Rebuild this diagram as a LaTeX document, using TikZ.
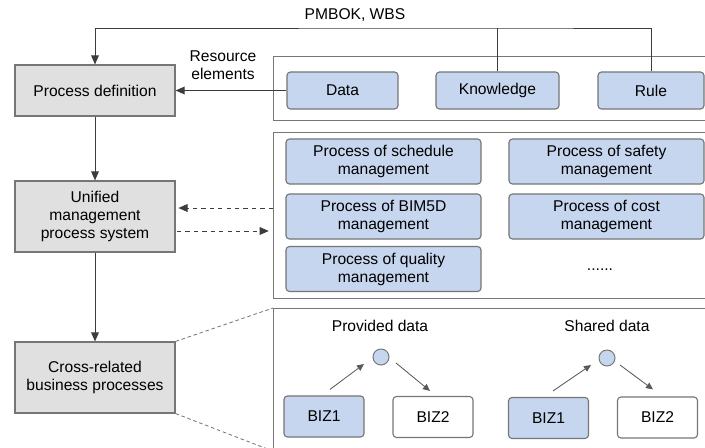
\documentclass[tikz,border=0pt]{standalone}
\usepackage{fontspec}
\setmainfont{Liberation Sans}
\usetikzlibrary{arrows.meta}

\definecolor{stagegray}{RGB}{224,224,224}
\definecolor{itemblue}{RGB}{198,214,238}
\definecolor{framegray}{RGB}{118,118,118}
\definecolor{wiregray}{RGB}{60,60,60}

\tikzset{
  every node/.style={font=\fontsize{11.1}{12.8}\selectfont},
  stage/.style={draw=framegray, fill=stagegray, line width=0.8pt, minimum width=4cm, align=center},
  item/.style={draw=framegray, fill=itemblue, line width=0.8pt, rounded corners=2.5pt, align=center},
  proc/.style={item, minimum width=4.875cm, minimum height=1.125cm},
  biz/.style={item, minimum width=2cm, minimum height=1.025cm},
  dot/.style={circle, draw=framegray, fill=itemblue, line width=0.7pt, minimum size=0.4cm, inner sep=0pt},
  panel/.style={draw=framegray, line width=0.8pt, anchor=north west, inner sep=0pt},
  wire/.style={draw=wiregray, line width=0.7pt},
  flow/.style={wire, -{Triangle[length=6.5pt,width=5.5pt]}},
  pass/.style={draw=wiregray!85, line width=0.6pt, -{Triangle[length=5pt,width=4.5pt]}},
  cut/.style={draw=framegray, line width=0.6pt, dash pattern=on 2.5pt off 2pt}
}

\begin{document}
\begin{tikzpicture}[x=0.025cm, y=-0.025cm]
\clip (0,0) rectangle (705,448);

% stages on the left
\node[stage, minimum height=1.275cm] (define) at (95,90.5) {Process definition};
\node[stage, minimum height=1.775cm] (unify) at (95,216.5) {Unified\\management\\process system};
\node[stage, minimum height=1.775cm] (cross) at (95,377.5) {Cross-related\\business processes};

\draw[flow] (define) -- (unify);
\draw[flow] (unify) -- (cross);

% frames on the right
\node[panel, minimum width=11.5cm, minimum height=1.6cm] (respanel) at (273,56) {};
\node[panel, minimum width=11.5cm, minimum height=4.15cm] (procpanel) at (273,132) {};
\node[panel, minimum width=11.5cm, minimum height=3.55cm] (bizpanel) at (273,308) {};

% resource elements
\node[item, minimum width=2.775cm, minimum height=0.925cm] (data) at (342.5,90.5) {Data};
\node[item, minimum width=3.075cm, minimum height=0.925cm] (know) at (497.5,90.5) {Knowledge};
\node[item, minimum width=2.65cm, minimum height=0.925cm] (rule) at (651,90.5) {Rule};

\coordinate (bus) at (497.5,28);
\node (pmbok) at (355,15) {PMBOK, WBS};
\draw[wire] (know.north) -- (bus);
\draw[flow] (rule.north) |- (bus) -| (define.north);

\node[align=center] (reslabel) at (223,65) {Resource\\elements};
\draw[flow] (data.west) -- (define.east);

% management processes
\node[proc] (sched) at (383.5,161.5) {Process of schedule\\management};
\node[proc] (safety) at (606.5,161.5) {Process of safety\\management};
\node[proc] (bim) at (383.5,216.5) {Process of BIM5D\\management};
\node[proc] (cost) at (606.5,216.5) {Process of cost\\management};
\node[proc] (quality) at (383.5,269) {Process of quality\\management};
\node (more) at (600,270) {......};

\draw[flow, dashed, shorten >=2pt] (procpanel.west |- 0,208) -- (unify.east |- 0,208);
\draw[flow, dashed, shorten <=1pt, shorten >=3pt] (unify.east |- 0,231) -- (procpanel.west |- 0,231);

% business relations
\draw[cut] (cross.north east) -- (bizpanel.north west);
\draw[cut] (cross.south east) -- (bizpanel.south west);

\node (provided) at (380,326) {Provided data};
\node[dot] (share1) at (381,357) {};
\node[biz] (biz1a) at (324,416.5) {BIZ1};
\node[biz, fill=white] (biz2a) at (433,417) {BIZ2};
\draw[pass] ([shift={(6,-6)}]biz1a.north) -- ([shift={(-17,7)}]share1.center);
\draw[pass] ([shift={(15,6)}]share1.center) -- ([shift={(-3,-5)}]biz2a.north);

\node (shared) at (607,326) {Shared data};
\node[dot] (share2) at (607,358) {};
\node[biz] (biz1b) at (548.5,418) {BIZ1};
\node[biz, fill=white] (biz2b) at (657.5,417.5) {BIZ2};
\draw[pass] ([shift={(4.5,-6)}]biz1b.north) -- ([shift={(-16,7)}]share2.center);
\draw[pass] ([shift={(13,7)}]share2.center) -- ([shift={(-4.5,-7)}]biz2b.north);
\end{tikzpicture}
\end{document}
